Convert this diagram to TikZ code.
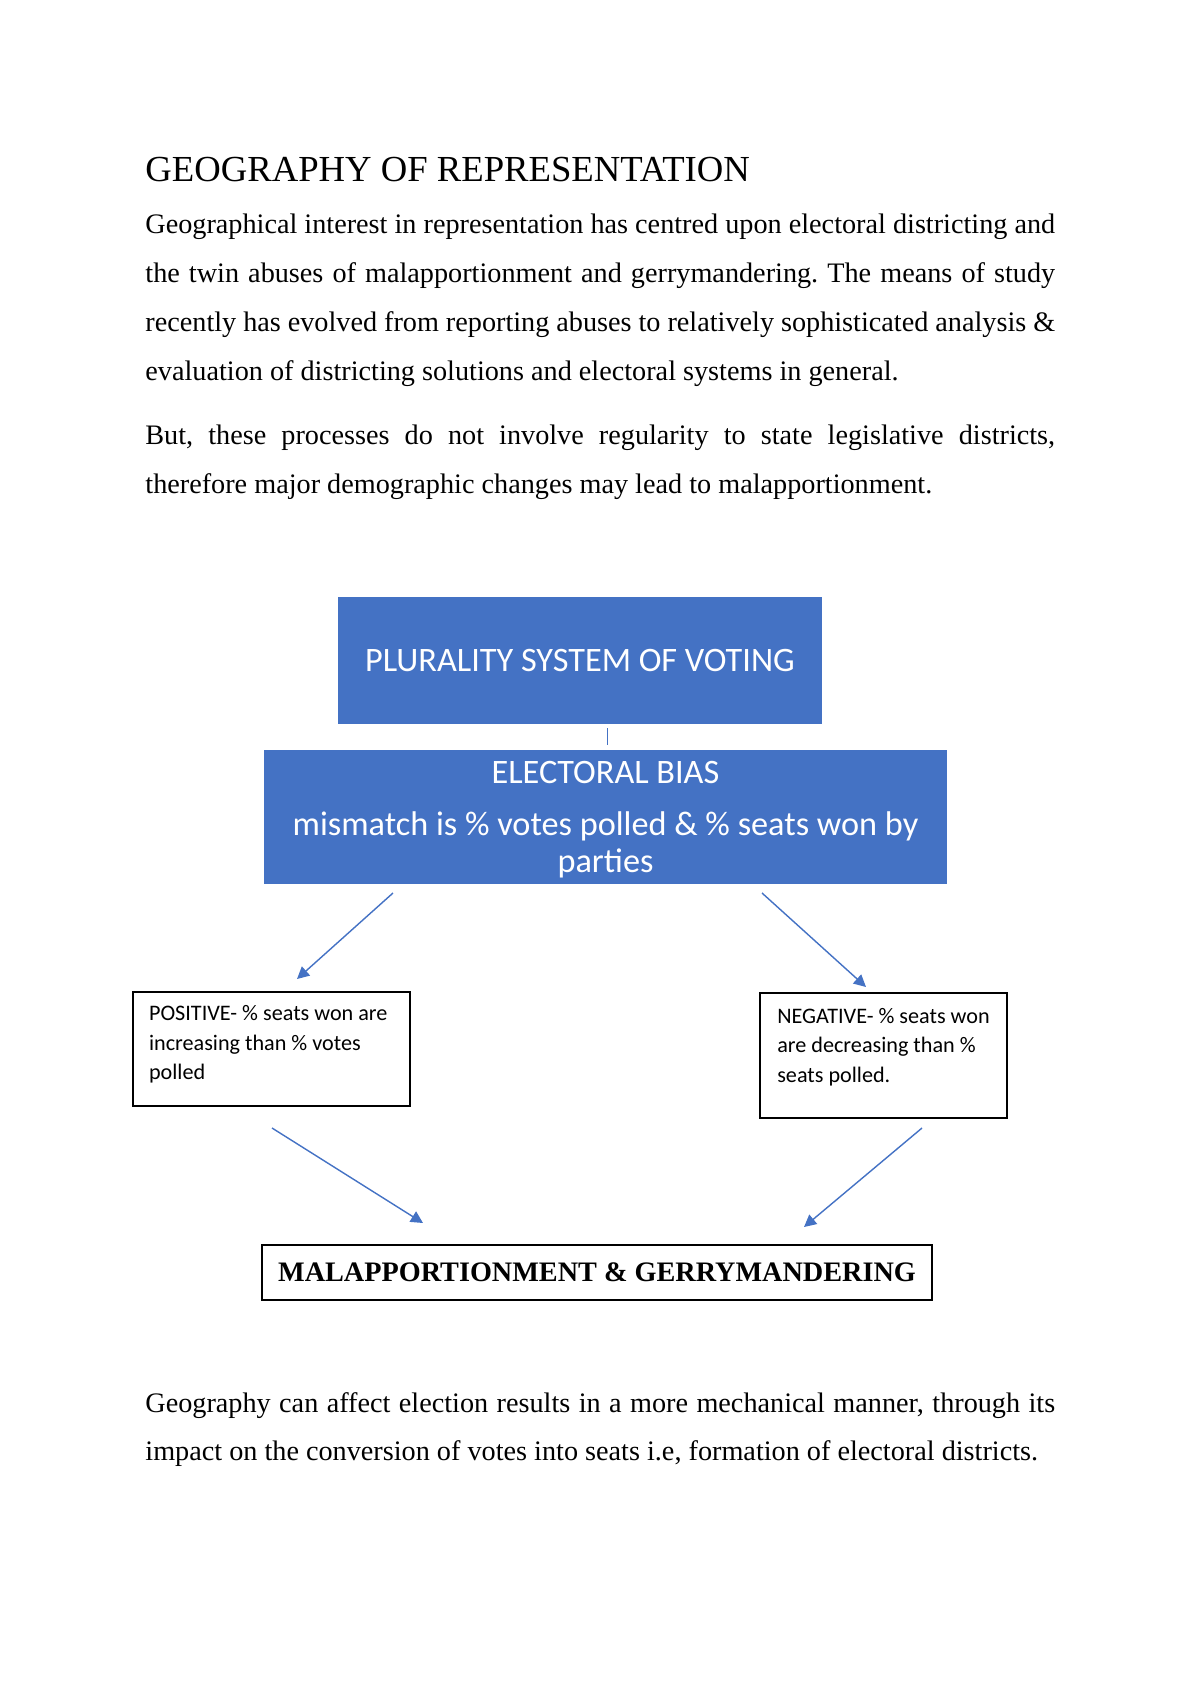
\documentclass[tikz,border=0pt]{standalone}
\usepackage{fontspec}
\setmainfont{Liberation Serif}
\newfontfamily\calibrifont{Carlito}
\usetikzlibrary{arrows.meta, positioning, calc}
\definecolor{boxblue}{HTML}{4472C4}

\begin{document}
\begin{tikzpicture}[
    x=0.49606pt, y=-0.49606pt,
    para/.style={anchor=base west, inner sep=0pt, text width=451.3pt, align=justify,
                 font=\fontsize{14}{24.2}\selectfont\frenchspacing},
    bluebox/.style={rectangle, fill=boxblue, text=white, align=center, inner sep=0pt},
    casebox/.style={rectangle, draw=black, line width=0.6pt, fill=white, align=left,
                    inner sep=0pt, font=\calibrifont\fontsize{11}{14.4}\selectfont},
    relation/.style={-{Triangle[length=6pt, width=6pt]}, draw=boxblue, line width=0.7pt}
]
\useasboundingbox (0,0) rectangle (1200,1697);

% Heading and text
\node[anchor=base west, inner sep=0pt, font=\fontsize{18.2}{21}\selectfont] (heading) at (145,182) {GEOGRAPHY OF REPRESENTATION};
\node[para] (intro) at (145,234) {Geographical interest in representation has centred upon electoral districting and\linebreak
  the twin abuses of malapportionment and gerrymandering. The means of study\linebreak
  recently has evolved from reporting abuses to relatively sophisticated analysis \&\linebreak
  evaluation of districting solutions and electoral systems in general.};
\node[para] (caveat) at (145,445) {But, these processes do not involve regularity to state legislative districts,\linebreak
  therefore major demographic changes may lead to malapportionment.};
\node[para] (closing) at (145,1412) {Geography can affect election results in a more mechanical manner, through its\linebreak
  impact on the conversion of votes into seats i.e, formation of electoral districts.};

% Define boxes
\node[bluebox, minimum width=240.1pt, minimum height=63pt,
      font=\calibrifont\fontsize{17}{20}\selectfont] (plurality) at (580,660.5) {PLURALITY SYSTEM OF VOTING};
\node[bluebox, minimum width=338.8pt, minimum height=66.5pt,
      font=\calibrifont\fontsize{17}{18.3}\selectfont] (bias) at (605.5,817)
      {\rule{0pt}{13.7pt}ELECTORAL BIAS\\[7.3pt] mismatch is \% votes polled \& \% seats won by\\ parties};
\node[casebox, minimum width=137.4pt, minimum height=56.6pt, text depth=6.5pt] (positive) at (271.5,1049)
      {POSITIVE- \% seats won are\rule{3.2pt}{0pt}\\ increasing than \% votes\\ polled};
\node[casebox, minimum width=122.5pt, minimum height=62pt, text depth=10pt] (negative) at (883.5,1055.5)
      {NEGATIVE- \% seats won\\ are decreasing than \%\\ seats polled.};
\node[rectangle, draw=black, line width=0.6pt, minimum width=332.4pt, minimum height=27.3pt, inner sep=0pt,
      font=\bfseries\fontsize{14}{16}\selectfont] (outcome) at (597,1272.5) {MALAPPORTIONMENT \& GERRYMANDERING};

% Arrow ends
\coordinate (biasL) at (393,893);
\coordinate (biasR) at (762,893);
\coordinate (posT) at (297,979);
\coordinate (negT) at (866,987);
\coordinate (posB) at (272,1128);
\coordinate (negB) at (922,1128);
\coordinate (outL) at (423,1223);
\coordinate (outR) at (804,1227);

% Relations
\draw[boxblue, line width=0.75pt, shorten <=2pt, shorten >=2.5pt]
  ([xshift=1pt]bias.north |- plurality.south) -- ([xshift=1pt]bias.north);
\draw[relation] (biasL) -- (posT);
\draw[relation] (biasR) -- (negT);
\draw[relation] (posB) -- (outL);
\draw[relation] (negB) -- (outR);

\end{tikzpicture}
\end{document}
